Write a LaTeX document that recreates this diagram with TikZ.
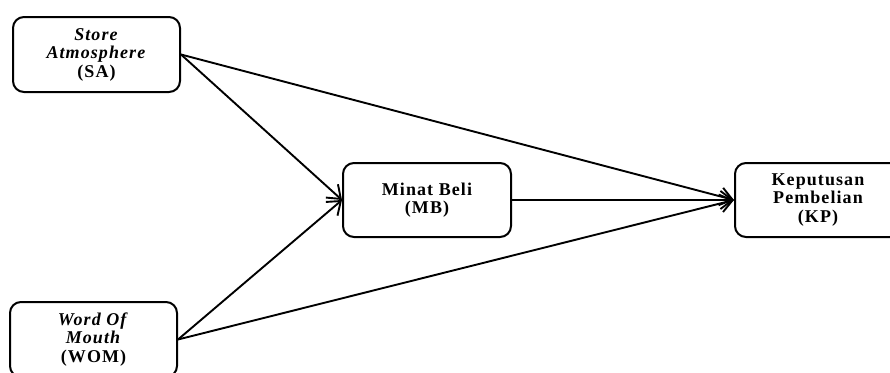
\documentclass[tikz,border=0pt]{standalone}
\usepackage{fontspec}
\setmainfont{Liberation Serif}
\usetikzlibrary{arrows.meta}
\tikzset{
  var/.style={draw=black, line width=2pt, rounded corners=11pt, align=center,
    font=\fontsize{18}{18.5}\selectfont\bfseries\addfontfeature{LetterSpace=6}, inner sep=0pt},
  conn/.style={line width=1.9pt, -{Straight Barb[length=12pt,width=18pt,line width=1.9pt]}}
}
\begin{document}
\begin{tikzpicture}[x=1pt,y=-1pt]
\useasboundingbox (0,0) rectangle (890,372);
\clip (0,0) rectangle (890,372);
\fill[white] (0,0) rectangle (890,372);
\node[var, minimum width=167pt, minimum height=75pt] (SA) at (96.5,54.5) {\textit{Store}\\\textit{Atmosphere}\\(SA)};
\node[var, minimum width=167pt, minimum height=75pt] (WOM) at (93.5,339.5) {\textit{Word Of}\\\textit{Mouth}\\(WOM)};
\node[var, minimum width=168pt, minimum height=74pt] (MB) at (427,200) {Minat Beli\\(MB)};
\node[var, minimum width=166pt, minimum height=74pt] (KP) at (818,200) {Keputusan\\Pembelian\\(KP)};
\draw[conn] (SA.east) -- (MB.west);
\draw[conn] (SA.east) -- (KP.west);
\draw[conn] (WOM.east) -- (MB.west);
\draw[conn] (WOM.east) -- (KP.west);
\draw[conn] (MB.east) -- (KP.west);
\end{tikzpicture}
\end{document}
